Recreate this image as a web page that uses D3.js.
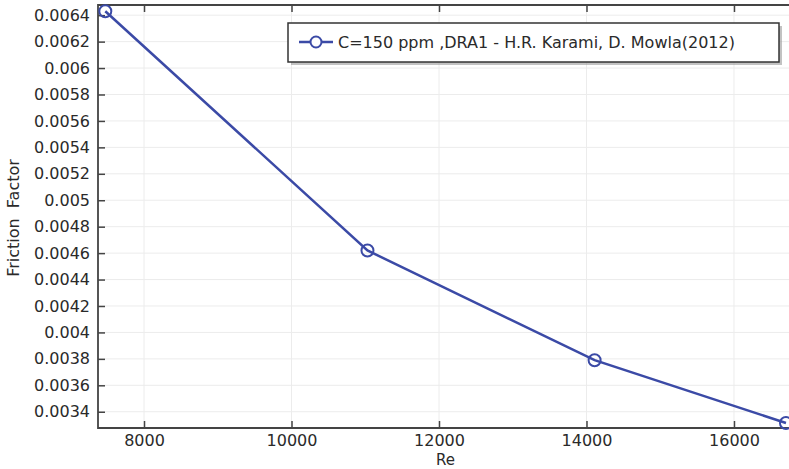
<!DOCTYPE html>
<html>
<head>
<meta charset="utf-8">
<script src="https://cdn.jsdelivr.net/npm/d3@7"></script>
<style>
    body { margin: 0; background: #fff; }
    text { font-family: "DejaVu Sans", sans-serif; fill: #2a2a2a; }
</style>
</head>
<body>
<div id="viz"></div>
<script>
// data
const reValues = [7475, 11030, 14110, 16705]
const frictionValues = [0.00643, 0.00462, 0.00379, 0.003315]
const xTicks = [8000, 10000, 12000, 14000, 16000]
const yTicks = [0.0034, 0.0036, 0.0038, 0.004, 0.0042, 0.0044, 0.0046, 0.0048,
    0.005, 0.0052, 0.0054, 0.0056, 0.0058, 0.006, 0.0062, 0.0064]
const seriesName = "C=150 ppm ,DRA1 - H.R. Karami, D. Mowla(2012)"

document.addEventListener("DOMContentLoaded", () => {

    const width = 789
    const height = 469
    const left = 98, top = 5, right = 789, bottom = 428
    const blue = "#3b4aa6"

    const svg = d3.select("#viz").append("svg")
        .attr("width", width)
        .attr("height", height)

    const x = d3.scaleLinear().domain([7376, 16746]).range([left, right])
    const y = d3.scaleLinear().domain([0.003277, 0.006477]).range([bottom, top])

    // grid
    svg.append("g").selectAll("line.gx")
        .data(xTicks)
        .join("line")
        .attr("x1", d => x(d)).attr("x2", d => x(d))
        .attr("y1", top).attr("y2", bottom)
        .attr("stroke", "#ececec")
        .attr("stroke-width", 1)

    svg.append("g").selectAll("line.gy")
        .data(yTicks)
        .join("line")
        .attr("x1", left).attr("x2", right)
        .attr("y1", d => y(d)).attr("y2", d => y(d))
        .attr("stroke", "#ececec")
        .attr("stroke-width", 1)

    // axes with inward ticks
    const fmt = d => String(+d.toFixed(4))

    svg.append("g")
        .attr("transform", `translate(0,${bottom})`)
        .call(d3.axisBottom(x).tickValues(xTicks).tickSizeInner(-7).tickSizeOuter(0).tickPadding(7).tickFormat(d3.format("d")))
        .call(g => g.select(".domain").remove())
        .call(g => g.selectAll("line").attr("stroke", "#444").attr("stroke-width", 1.5))
        .call(g => g.selectAll("text").attr("font-size", 16).attr("fill", "#2a2a2a"))

    svg.append("g")
        .attr("transform", `translate(0,${top})`)
        .call(d3.axisTop(x).tickValues(xTicks).tickSizeInner(-7).tickSizeOuter(0).tickFormat(""))
        .call(g => g.select(".domain").remove())
        .call(g => g.selectAll("line").attr("stroke", "#444").attr("stroke-width", 1.5))

    svg.append("g")
        .attr("transform", `translate(${left},0)`)
        .call(d3.axisLeft(y).tickValues(yTicks).tickSizeInner(-7).tickSizeOuter(0).tickPadding(8).tickFormat(fmt))
        .call(g => g.select(".domain").remove())
        .call(g => g.selectAll("line").attr("stroke", "#444").attr("stroke-width", 1.5))
        .call(g => g.selectAll("text").attr("font-size", 16).attr("fill", "#2a2a2a"))

    // frame (right side runs off the picture)
    svg.append("path")
        .attr("d", `M${right + 4},${top}H${left}V${bottom}H${right + 4}`)
        .attr("fill", "none")
        .attr("stroke", "#444")
        .attr("stroke-width", 1.8)

    // series
    const pts = reValues.map((r, i) => [r, frictionValues[i]])

    svg.append("path")
        .datum(pts)
        .attr("d", d3.line().x(d => x(d[0])).y(d => y(d[1])))
        .attr("fill", "none")
        .attr("stroke", blue)
        .attr("stroke-width", 2.5)

    svg.append("g").selectAll("circle")
        .data(pts)
        .join("circle")
        .attr("cx", d => x(d[0]))
        .attr("cy", d => y(d[1]))
        .attr("r", 6)
        .attr("fill", "none")
        .attr("stroke", blue)
        .attr("stroke-width", 2)

    // legend
    const lg = svg.append("g")
    lg.append("rect")
        .attr("x", 291).attr("y", 26)
        .attr("width", 491).attr("height", 39)
        .attr("fill", "#999")
        .attr("opacity", 0.6)
    lg.append("rect")
        .attr("x", 288).attr("y", 23)
        .attr("width", 491).attr("height", 39)
        .attr("fill", "#fff")
        .attr("stroke", "#333")
        .attr("stroke-width", 1.5)
    lg.append("line")
        .attr("x1", 299).attr("x2", 333)
        .attr("y1", 42).attr("y2", 42)
        .attr("stroke", blue)
        .attr("stroke-width", 2.5)
    lg.append("circle")
        .attr("cx", 316).attr("cy", 42)
        .attr("r", 5.5)
        .attr("fill", "#fff")
        .attr("stroke", blue)
        .attr("stroke-width", 2)
    lg.append("text")
        .attr("x", 338).attr("y", 48)
        .attr("font-size", 16)
        .text(seriesName)

    // axis titles
    svg.append("text")
        .attr("x", (left + right) / 2 + 2)
        .attr("y", 465)
        .attr("text-anchor", "middle")
        .attr("font-size", 15)
        .text("Re")

    svg.append("text")
        .attr("transform", `translate(19,218) rotate(-90)`)
        .attr("text-anchor", "middle")
        .attr("font-size", 16)
        .attr("xml:space", "preserve")
        .style("white-space", "pre")
        .text("Friction  Factor")

})
</script>
</body>
</html>
